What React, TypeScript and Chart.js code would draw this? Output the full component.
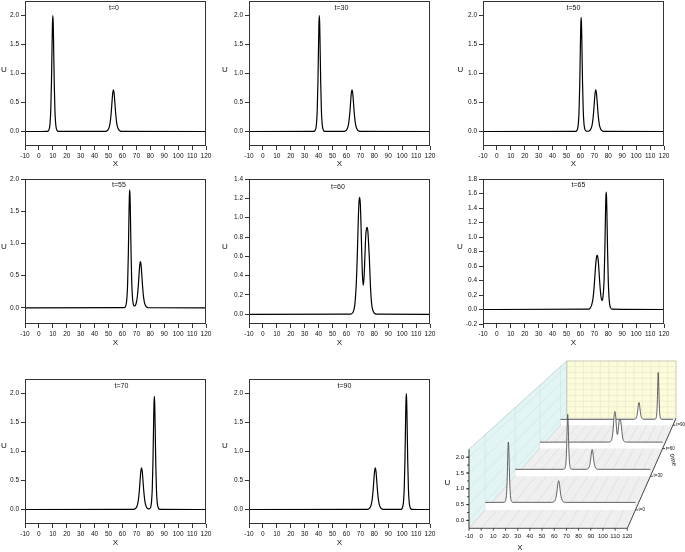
import React, { useEffect, useRef } from "react";
import { Chart, registerables } from "chart.js";

Chart.register(...registerables);

const FONT = "'Liberation Sans', Arial, sans-serif";

// ---------- data ----------
const xTickValues = [-10, 0, 10, 20, 30, 40, 50, 60, 70, 80, 90, 100, 110, 120];
const uTicksHalf = [0, 0.5, 1.0, 1.5, 2.0];
const uTicks14 = [0, 0.2, 0.4, 0.6, 0.8, 1.0, 1.2, 1.4];
const uTicks18 = [-0.2, 0, 0.2, 0.4, 0.6, 0.8, 1.0, 1.2, 1.4, 1.6, 1.8];

const curveT0: [number, number][] = [
  [-10, 0], [6, 0.003], [7, 0.02], [7.5, 0.053], [8, 0.141], [8.5, 0.361], [9, 0.84], [9.5, 1.573], [9.75, 1.88], [10, 2.0],
  [10.25, 1.88], [10.5, 1.573], [11, 0.84], [11.5, 0.361], [12, 0.141], [12.5, 0.053], [13, 0.02], [14, 0.003],
  [47.5, 0.002], [48.5, 0.007], [49.5, 0.023], [50.5, 0.075], [51, 0.13], [51.5, 0.22], [52, 0.35], [52.5, 0.514], [53, 0.659], [53.5, 0.72],
  [54, 0.659], [54.5, 0.514], [55, 0.35], [55.5, 0.22], [56, 0.13], [56.5, 0.075], [57.5, 0.023], [58.5, 0.007], [59.5, 0.002], [120, 0],
];
const curveT30: [number, number][] = [
  [-10, 0], [36.5, 0.003], [37.5, 0.02], [38, 0.053], [38.5, 0.141], [39, 0.361], [39.5, 0.84], [40, 1.573], [40.25, 1.88], [40.5, 2.0],
  [40.75, 1.88], [41, 1.573], [41.5, 0.84], [42, 0.361], [42.5, 0.141], [43, 0.053], [43.5, 0.02], [44.5, 0.003],
  [58, 0.002], [59, 0.007], [60, 0.023], [61, 0.075], [61.5, 0.13], [62, 0.22], [62.5, 0.35], [63, 0.514], [63.5, 0.659], [64, 0.72],
  [64.5, 0.659], [65, 0.514], [65.5, 0.35], [66, 0.22], [66.5, 0.13], [67, 0.075], [68, 0.023], [69, 0.007], [70, 0.002], [120, 0],
];
const curveT50: [number, number][] = [
  [-10, 0], [56.5, 0.003], [57.5, 0.02], [58, 0.052], [58.5, 0.14], [59, 0.356], [59.5, 0.83], [60, 1.55], [60.25, 1.85], [60.5, 1.97],
  [60.75, 1.85], [61, 1.55], [61.5, 0.83], [62, 0.358], [62.5, 0.142], [63, 0.055], [63.5, 0.022], [64.5, 0.005], [65.5, 0.004],
  [66, 0.007], [67, 0.023], [68, 0.075], [68.5, 0.13], [69, 0.22], [69.5, 0.35], [70, 0.514], [70.5, 0.659], [71, 0.72],
  [71.5, 0.659], [72, 0.514], [72.5, 0.35], [73, 0.22], [73.5, 0.13], [74, 0.075], [75, 0.023], [76, 0.007], [77, 0.002], [120, 0],
];
const curveT55: [number, number][] = [
  [-10, 0], [61.2, 0.003], [62.2, 0.023], [62.7, 0.06], [63.2, 0.153], [63.7, 0.372], [64.2, 0.822], [64.7, 1.468], [64.95, 1.73], [65.2, 1.83],
  [65.45, 1.73], [65.7, 1.468], [66.2, 0.822], [66.7, 0.375], [67.2, 0.16], [67.7, 0.065], [68.3, 0.031], [68.9, 0.029], [69.4, 0.043],
  [69.9, 0.076], [70.4, 0.13], [70.9, 0.22], [71.4, 0.35], [71.9, 0.514], [72.4, 0.659], [72.9, 0.72], [73.4, 0.659], [73.9, 0.514],
  [74.4, 0.35], [74.9, 0.22], [75.4, 0.13], [75.9, 0.075], [76.9, 0.023], [77.9, 0.007], [78.9, 0.002], [120, 0],
];
const curveT60: [number, number][] = [
  [-10, 0], [63, 0.003], [64, 0.01], [65, 0.03], [66, 0.1], [67, 0.3], [67.5, 0.48], [68, 0.72], [68.5, 0.98], [69, 1.16], [69.5, 1.21],
  [70, 1.13], [70.5, 0.9], [71, 0.62], [71.5, 0.4], [72.1, 0.3], [72.7, 0.4], [73.3, 0.62], [73.8, 0.8], [74.3, 0.88], [74.8, 0.9],
  [75.3, 0.87], [75.8, 0.76], [76.5, 0.56], [77.2, 0.3], [78, 0.12], [79, 0.04], [80, 0.012], [81.5, 0.002], [120, 0],
];
const curveT65: [number, number][] = [
  [-10, 0], [66, 0.005], [67, 0.02], [68, 0.06], [69, 0.15], [69.5, 0.24], [70, 0.36], [70.5, 0.5], [71, 0.63], [71.5, 0.72], [72, 0.75],
  [72.5, 0.72], [73, 0.62], [73.5, 0.47], [74, 0.33], [74.6, 0.2], [75.3, 0.125], [75.9, 0.14], [76.4, 0.22], [77, 0.42], [77.5, 0.81],
  [78, 1.34], [78.25, 1.55], [78.5, 1.62], [78.75, 1.54], [79, 1.33], [79.5, 0.789], [80, 0.382], [80.5, 0.168], [81, 0.07], [81.5, 0.029],
  [82.5, 0.005], [120, 0],
];
const curveT70: [number, number][] = [
  [-10, 0], [67.7, 0.002], [68.7, 0.007], [69.7, 0.023], [70.7, 0.075], [71.2, 0.13], [71.7, 0.22], [72.2, 0.35], [72.7, 0.514], [73.2, 0.659],
  [73.7, 0.72], [74.2, 0.659], [74.7, 0.514], [75.2, 0.35], [75.7, 0.22], [76.2, 0.13], [76.7, 0.075], [77.7, 0.025], [78.9, 0.01],
  [79.9, 0.022], [80.4, 0.055], [80.9, 0.14], [81.4, 0.35], [81.9, 0.82], [82.4, 1.53], [82.65, 1.83], [82.9, 1.95], [83.15, 1.83],
  [83.4, 1.53], [83.9, 0.82], [84.4, 0.35], [84.9, 0.14], [85.4, 0.052], [85.9, 0.02], [86.9, 0.003], [120, 0],
];
const curveT90: [number, number][] = [
  [-10, 0], [74.7, 0.002], [75.7, 0.007], [76.7, 0.023], [77.7, 0.075], [78.2, 0.13], [78.7, 0.22], [79.2, 0.35], [79.7, 0.514], [80.2, 0.659],
  [80.7, 0.72], [81.2, 0.659], [81.7, 0.514], [82.2, 0.35], [82.7, 0.22], [83.2, 0.13], [83.7, 0.075], [84.7, 0.023], [85.7, 0.007],
  [86.7, 0.002], [99, 0.003], [100, 0.02], [100.5, 0.053], [101, 0.141], [101.5, 0.361], [102, 0.84], [102.5, 1.573], [102.75, 1.88],
  [103, 2.0], [103.25, 1.88], [103.5, 1.573], [104, 0.84], [104.5, 0.361], [105, 0.141], [105.5, 0.053], [106, 0.02], [107, 0.003], [120, 0],
];

const waterfallTimes = [0, 30, 60, 90];
const waterfallLabels = ["t=0", "t=30", "t=60", "t=90"];
const waterfallCurves = [curveT0, curveT30, curveT60, curveT90];
const waterfallUTicks = [0, 0.5, 1.0, 1.5, 2.0];

// ---------- layout ----------
type PanelCfg = {
  title: string; curve: [number, number][]; yMin: number; yMax: number; yTicks: number[];
  l: number; t: number; r: number; b: number;
  titleX: number; titleY: number; uX: number; uY: number; xLabelY: number;
};

const panels: PanelCfg[] = [
  { title: "t=0", curve: curveT0, yMin: -0.25, yMax: 2.25, yTicks: uTicksHalf, l: 25, t: 1, r: 206, b: 146, titleX: 114, titleY: 8.5, uX: 4, uY: 70, xLabelY: 164 },
  { title: "t=30", curve: curveT30, yMin: -0.25, yMax: 2.25, yTicks: uTicksHalf, l: 249, t: 1, r: 430, b: 146, titleX: 341.5, titleY: 8.5, uX: 225, uY: 70, xLabelY: 164 },
  { title: "t=50", curve: curveT50, yMin: -0.25, yMax: 2.25, yTicks: uTicksHalf, l: 483, t: 1, r: 664, b: 146, titleX: 573.5, titleY: 8.5, uX: 460.5, uY: 70, xLabelY: 164 },
  { title: "t=55", curve: curveT55, yMin: -0.25, yMax: 2.0, yTicks: uTicksHalf, l: 25, t: 179, r: 206, b: 324, titleX: 119, titleY: 185, uX: 4, uY: 247, xLabelY: 343 },
  { title: "t=60", curve: curveT60, yMin: -0.1, yMax: 1.4, yTicks: uTicks14, l: 249, t: 179, r: 430, b: 324, titleX: 338, titleY: 187, uX: 225, uY: 247, xLabelY: 343 },
  { title: "t=65", curve: curveT65, yMin: -0.2, yMax: 1.8, yTicks: uTicks18, l: 483, t: 179, r: 664, b: 324, titleX: 578.5, titleY: 185, uX: 460, uY: 247, xLabelY: 343 },
  { title: "t=70", curve: curveT70, yMin: -0.25, yMax: 2.25, yTicks: uTicksHalf, l: 25, t: 379, r: 206, b: 524, titleX: 121.5, titleY: 386.5, uX: 4, uY: 446, xLabelY: 543 },
  { title: "t=90", curve: curveT90, yMin: -0.25, yMax: 2.25, yTicks: uTicksHalf, l: 249, t: 379, r: 430, b: 524, titleX: 344.5, titleY: 386.5, uX: 225, uY: 446, xLabelY: 543 },
];

function Panel({ cfg }: { cfg: PanelCfg }) {
  const ref = useRef<HTMLCanvasElement>(null);
  const cl = Math.max(0, cfg.l - 30);
  const ct = Math.max(0, cfg.t - 8);
  const cr = cfg.r + 14;
  const cb = cfg.b + 27;
  const w = cr - cl;
  const h = cb - ct;

  useEffect(() => {
    const framePlugin = {
      id: "frame",
      afterDraw(chart: any) {
        const { ctx, chartArea: a } = chart;
        ctx.save();
        ctx.strokeStyle = "#333";
        ctx.lineWidth = 1;
        ctx.strokeRect(Math.round(a.left) + 0.5, Math.round(a.top) + 0.5, Math.round(a.right - a.left) - 1, Math.round(a.bottom - a.top) - 1);
        ctx.fillStyle = "#111";
        ctx.textAlign = "center";
        ctx.textBaseline = "middle";
        ctx.font = `7px ${FONT}`;
        ctx.fillText(cfg.title, cfg.titleX - cl, cfg.titleY - ct);
        ctx.font = `8px ${FONT}`;
        ctx.fillText("U", cfg.uX - cl, cfg.uY - ct);
        ctx.fillText("X", (cfg.l + cfg.r) / 2 - cl, cfg.xLabelY - ct);
        ctx.restore();
      },
    };
    const tickFont = { family: FONT, size: 6.5 };
    const chart = new Chart(ref.current!, {
      type: "line",
      data: {
        datasets: [
          {
            data: cfg.curve.map(([x, y]) => ({ x, y })),
            borderColor: "#000",
            borderWidth: 1.2,
            pointRadius: 0,
            fill: false,
            cubicInterpolationMode: "monotone",
          },
        ],
      },
      options: {
        responsive: false,
        animation: false,
        events: [],
        layout: { padding: { left: 0, top: cfg.t - ct, right: cr - cfg.r, bottom: 0 } },
        plugins: { legend: { display: false }, tooltip: { enabled: false } },
        scales: {
          x: {
            type: "linear",
            min: -10,
            max: 120,
            afterBuildTicks: (s: any) => { s.ticks = xTickValues.map((v) => ({ value: v })); },
            afterFit: (s: any) => { s.height = cb - cfg.b; s.paddingLeft = 0; s.paddingRight = 0; s.paddingTop = 0; s.paddingBottom = 0; },
            grid: { display: true, drawOnChartArea: false, drawTicks: true, tickLength: 4, color: "#333" },
            border: { display: false },
            ticks: { font: tickFont, color: "#111", padding: 2, maxRotation: 0, autoSkip: false, callback: (v: any) => String(v) },
          },
          y: {
            type: "linear",
            min: cfg.yMin,
            max: cfg.yMax,
            afterBuildTicks: (s: any) => { s.ticks = cfg.yTicks.map((v) => ({ value: v })); },
            afterFit: (s: any) => { s.width = cfg.l - cl; s.paddingLeft = 0; s.paddingRight = 0; s.paddingTop = 0; s.paddingBottom = 0; },
            grid: { display: true, drawOnChartArea: false, drawTicks: true, tickLength: 4, color: "#333" },
            border: { display: false },
            ticks: { font: tickFont, color: "#111", padding: 2, autoSkip: false, callback: (v: any) => Number(v).toFixed(1) },
          },
        },
      },
      plugins: [framePlugin],
    } as any);
    return () => chart.destroy();
  }, []);

  return (
    <canvas
      ref={ref}
      width={w}
      height={h}
      style={{ position: "absolute", left: cl, top: ct, width: w, height: h, display: "block" }}
    />
  );
}

// ---------- 3D waterfall ----------
const W3 = { left: 440, top: 350, width: 245, height: 202 };
const T0 = -14;
const T1 = 100;
const PK = 0.43;
const X0 = -10, X1 = 120, U0 = -0.25, U1 = 2.25;

function depth(t: number) {
  const d = (t - T0) / (T1 - T0);
  return (PK * d) / (1 + PK * d) / (PK / (1 + PK));
}
function proj(x: number, t: number, u: number) {
  const g = depth(t);
  const xl = 469 + 97.7 * g, xr = 627.3 + 48.7 * g;
  const yb = 528.3 - 110 * g, yt = 449.3 - 88.3 * g;
  return { x: xl + ((x - X0) / (X1 - X0)) * (xr - xl), y: yb - ((u - U0) / (U1 - U0)) * (yb - yt) };
}

function Waterfall() {
  const ref = useRef<HTMLCanvasElement>(null);
  useEffect(() => {
    const P = (chart: any, x: number, t: number, u: number): [number, number] => {
      const p = proj(x, t, u);
      return [chart.scales.x.getPixelForValue(p.x), chart.scales.y.getPixelForValue(p.y)];
    };
    const line = (ctx: any, a: [number, number], b: [number, number]) => {
      ctx.beginPath(); ctx.moveTo(a[0], a[1]); ctx.lineTo(b[0], b[1]); ctx.stroke();
    };
    const poly = (ctx: any, pts: [number, number][], fill: string | null, stroke: string | null) => {
      ctx.beginPath();
      pts.forEach((p, i) => (i ? ctx.lineTo(p[0], p[1]) : ctx.moveTo(p[0], p[1])));
      ctx.closePath();
      if (fill) { ctx.fillStyle = fill; ctx.fill(); }
      if (stroke) { ctx.strokeStyle = stroke; ctx.stroke(); }
    };
    const wfPlugin = {
      id: "wf",
      beforeDatasetsDraw(chart: any) {
        const ctx = chart.ctx;
        ctx.save();
        ctx.lineWidth = 0.6;
        // back wall
        poly(ctx, [P(chart, X0, T1, U0), P(chart, X1, T1, U0), P(chart, X1, T1, U1), P(chart, X0, T1, U1)], "#fcfcda", null);
        ctx.strokeStyle = "#e6e6c6";
        for (const x of xTickValues) line(ctx, P(chart, x, T1, U0), P(chart, x, T1, U1));
        for (let u = U0; u <= U1 + 1e-9; u += 0.25) line(ctx, P(chart, X0, T1, u), P(chart, X1, T1, u));
        poly(ctx, [P(chart, X0, T1, U0), P(chart, X1, T1, U0), P(chart, X1, T1, U1), P(chart, X0, T1, U1)], null, "#b9b9a8");
        // left wall
        poly(ctx, [P(chart, X0, T0, U0), P(chart, X0, T1, U0), P(chart, X0, T1, U1), P(chart, X0, T0, U1)], "#e2f4f4", null);
        ctx.strokeStyle = "#cfe3e3";
        for (const t of waterfallTimes) line(ctx, P(chart, X0, t, U0), P(chart, X0, t, U1));
        for (let u = 0; u <= U1 + 1e-9; u += 0.5) line(ctx, P(chart, X0, T0, u), P(chart, X0, T1, u));
        poly(ctx, [P(chart, X0, T0, U0), P(chart, X0, T1, U0), P(chart, X0, T1, U1), P(chart, X0, T0, U1)], null, "#a9bcbc");
        // floor
        poly(ctx, [P(chart, X0, T0, U0), P(chart, X1, T0, U0), P(chart, X1, T1, U0), P(chart, X0, T1, U0)], "#efefef", null);
        ctx.strokeStyle = "#d6d6d6";
        for (const x of xTickValues) line(ctx, P(chart, x, T0, U0), P(chart, x, T1, U0));
        ctx.restore();
      },
      afterDatasetsDraw(chart: any) {
        const ctx = chart.ctx;
        ctx.save();
        ctx.strokeStyle = "#222";
        ctx.fillStyle = "#111";
        ctx.lineWidth = 0.8;
        // X axis
        line(ctx, P(chart, X0, T0, U0), P(chart, X1, T0, U0));
        ctx.font = `6px ${FONT}`;
        ctx.textAlign = "center";
        ctx.textBaseline = "middle";
        for (const x of xTickValues) {
          const p = P(chart, x, T0, U0);
          line(ctx, p, [p[0], p[1] + 2.5]);
          ctx.fillText(String(x), p[0], p[1] + 8.5);
        }
        // U axis
        line(ctx, P(chart, X0, T0, U0), P(chart, X0, T0, U1));
        ctx.textAlign = "right";
        for (let u = 0; u <= 2.0 + 1e-9; u += 0.25) {
          const p = P(chart, X0, T0, u);
          line(ctx, p, [p[0] - 2, p[1]]);
        }
        for (const u of waterfallUTicks) {
          const p = P(chart, X0, T0, u);
          line(ctx, p, [p[0] - 3, p[1]]);
          ctx.fillText(u.toFixed(1), p[0] - 5, p[1]);
        }
        // time axis
        line(ctx, P(chart, X1, T0, U0), P(chart, X1, T1, U0));
        ctx.textAlign = "left";
        ctx.font = `4.5px ${FONT}`;
        waterfallTimes.forEach((t, i) => {
          const p = P(chart, X1, t, U0);
          line(ctx, p, [p[0] + 2.5, p[1]]);
          ctx.fillText(waterfallLabels[i], p[0] + 3.2, p[1]);
        });
        // axis titles
        ctx.textAlign = "center";
        ctx.font = `8px ${FONT}`;
        ctx.fillText("U", chart.scales.x.getPixelForValue(447.5), chart.scales.y.getPixelForValue(483));
        ctx.fillText("X", chart.scales.x.getPixelForValue(520), chart.scales.y.getPixelForValue(548));
        ctx.save();
        ctx.translate(chart.scales.x.getPixelForValue(673), chart.scales.y.getPixelForValue(460));
        ctx.rotate(Math.PI * 0.42);
        ctx.font = `6.5px ${FONT}`;
        ctx.fillText("time", 0, 0);
        ctx.restore();
        ctx.restore();
      },
    };

    const datasets = waterfallCurves.map((curve, i) => {
      const t = waterfallTimes[i];
      return {
        data: curve.map(([x, u]) => proj(x, t, u)),
        borderColor: "#3a3a3a",
        borderWidth: 0.8,
        backgroundColor: "#ffffff",
        pointRadius: 0,
        cubicInterpolationMode: "monotone",
        fill: { value: proj(0, t, U0).y },
      };
    });

    const chart = new Chart(ref.current!, {
      type: "line",
      data: { datasets },
      options: {
        responsive: false,
        animation: false,
        events: [],
        layout: { padding: 0 },
        plugins: { legend: { display: false }, tooltip: { enabled: false } },
        scales: {
          x: { type: "linear", min: W3.left, max: W3.left + W3.width, display: false },
          y: { type: "linear", min: W3.top, max: W3.top + W3.height, reverse: true, display: false },
        },
      },
      plugins: [wfPlugin],
    } as any);
    return () => chart.destroy();
  }, []);

  return (
    <canvas
      ref={ref}
      width={W3.width}
      height={W3.height}
      style={{ position: "absolute", left: W3.left, top: W3.top, width: W3.width, height: W3.height, display: "block" }}
    />
  );
}

export default function App() {
  return (
    <div style={{ position: "fixed", left: 0, top: 0, width: 685, height: 552, background: "#fff", overflow: "hidden" }}>
      {panels.map((p, i) => (
        <Panel key={i} cfg={p} />
      ))}
      <Waterfall />
    </div>
  );
}
